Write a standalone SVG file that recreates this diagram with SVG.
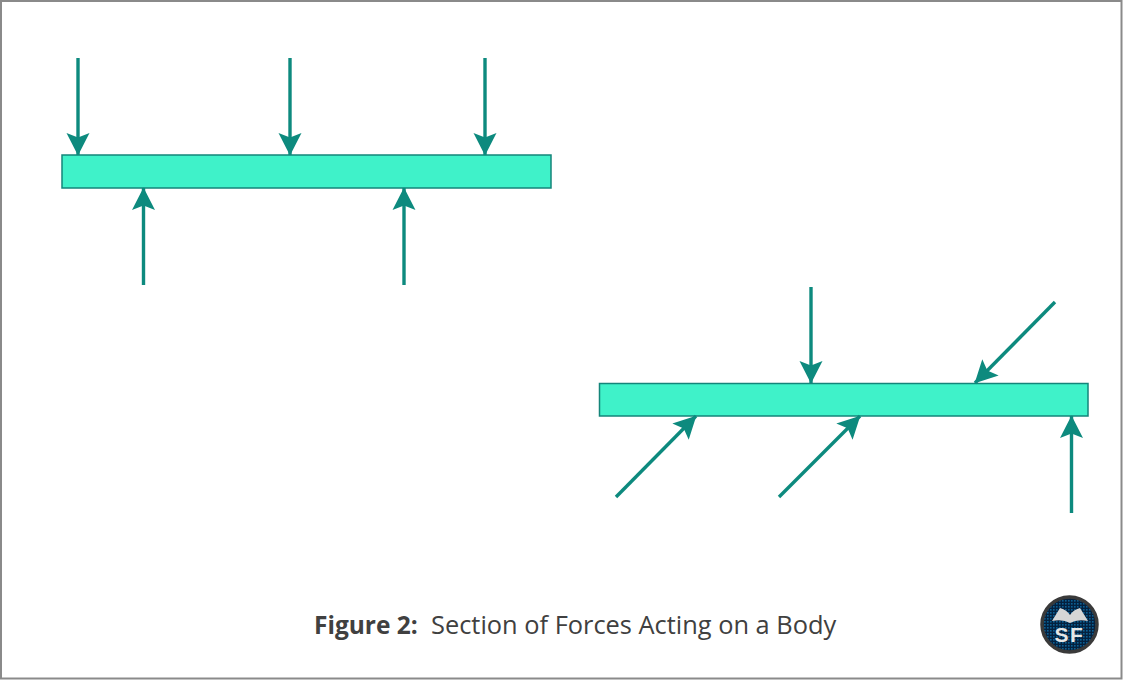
<svg xmlns="http://www.w3.org/2000/svg" width="1123" height="680" viewBox="0 0 1123 680">
<style>
.bar{fill:#3ff2c9;stroke:#14857a;stroke-width:1.5}
.f{fill:none;stroke:#0d8a7e;stroke-width:3.4;stroke-linecap:butt;marker-end:url(#ah)}
.cap{font-family:"Open Sans","Noto Sans",sans-serif;fill:#404040}
</style>
<defs>
<marker id="ah" markerUnits="userSpaceOnUse" markerWidth="24" markerHeight="24" refX="22" refY="12" orient="auto" viewBox="0 0 24 24">
<path d="M22.500 12 L0 0.500 L4.500 12 L0 23.500 Z" fill="#0d8a7e"/>
</marker>
<pattern id="dots" width="3" height="3" patternUnits="userSpaceOnUse">
<rect width="3" height="3" fill="#04213f"/>
<rect width="1.600" height="1.600" fill="#0b5f94"/>
</pattern>
</defs>
<rect x="0" y="0" width="1123" height="680" fill="#fff"/>
<rect x="1" y="1" width="1120.500" height="677.500" fill="none" stroke="#8a8a8a" stroke-width="2"/>
<g id="bar-top"><rect class="bar" x="62" y="155" width="489" height="33"/></g>
<g id="bar-bottom"><rect class="bar" x="599.500" y="383.500" width="488.500" height="32.500"/></g>
<g id="connectors">
<line class="f" x1="78" y1="58" x2="78" y2="155"/>
<line class="f" x1="290" y1="58" x2="290" y2="155"/>
<line class="f" x1="485" y1="58" x2="485" y2="155"/>
<line class="f" x1="143.500" y1="285" x2="143.500" y2="188"/>
<line class="f" x1="404" y1="285" x2="404" y2="188"/>
<line class="f" x1="811" y1="287" x2="811" y2="383"/>
<line class="f" x1="1055" y1="302" x2="975" y2="383"/>
<line class="f" x1="616" y1="497" x2="696" y2="416"/>
<line class="f" x1="779" y1="497" x2="860" y2="416"/>
<line class="f" x1="1071.500" y1="513" x2="1071.500" y2="416"/>
</g>
<g id="caption">
<text class="cap" x="314" y="634" font-size="24.500" font-weight="700">Figure 2:</text>
<text class="cap" x="431" y="634" font-size="25.400">Section of Forces Acting on a Body</text>
</g>
<g id="logo">
<circle cx="1069.500" cy="624.500" r="27.500" fill="url(#dots)" stroke="#3a3a3a" stroke-width="3.500"/>
<path d="M1052 621 L1060 608 Q1067 610 1070 615 Q1073 610 1080 608 L1088 621 Q1077 619 1070 623 Q1063 619 1052 621 Z" fill="#d6d6d6"/>
<text x="1069.500" y="642" text-anchor="middle" font-family="'Liberation Sans',Arial,sans-serif" font-weight="700" font-size="21" letter-spacing="1.500" fill="#e6e6e6">SF</text>
</g>
</svg>
